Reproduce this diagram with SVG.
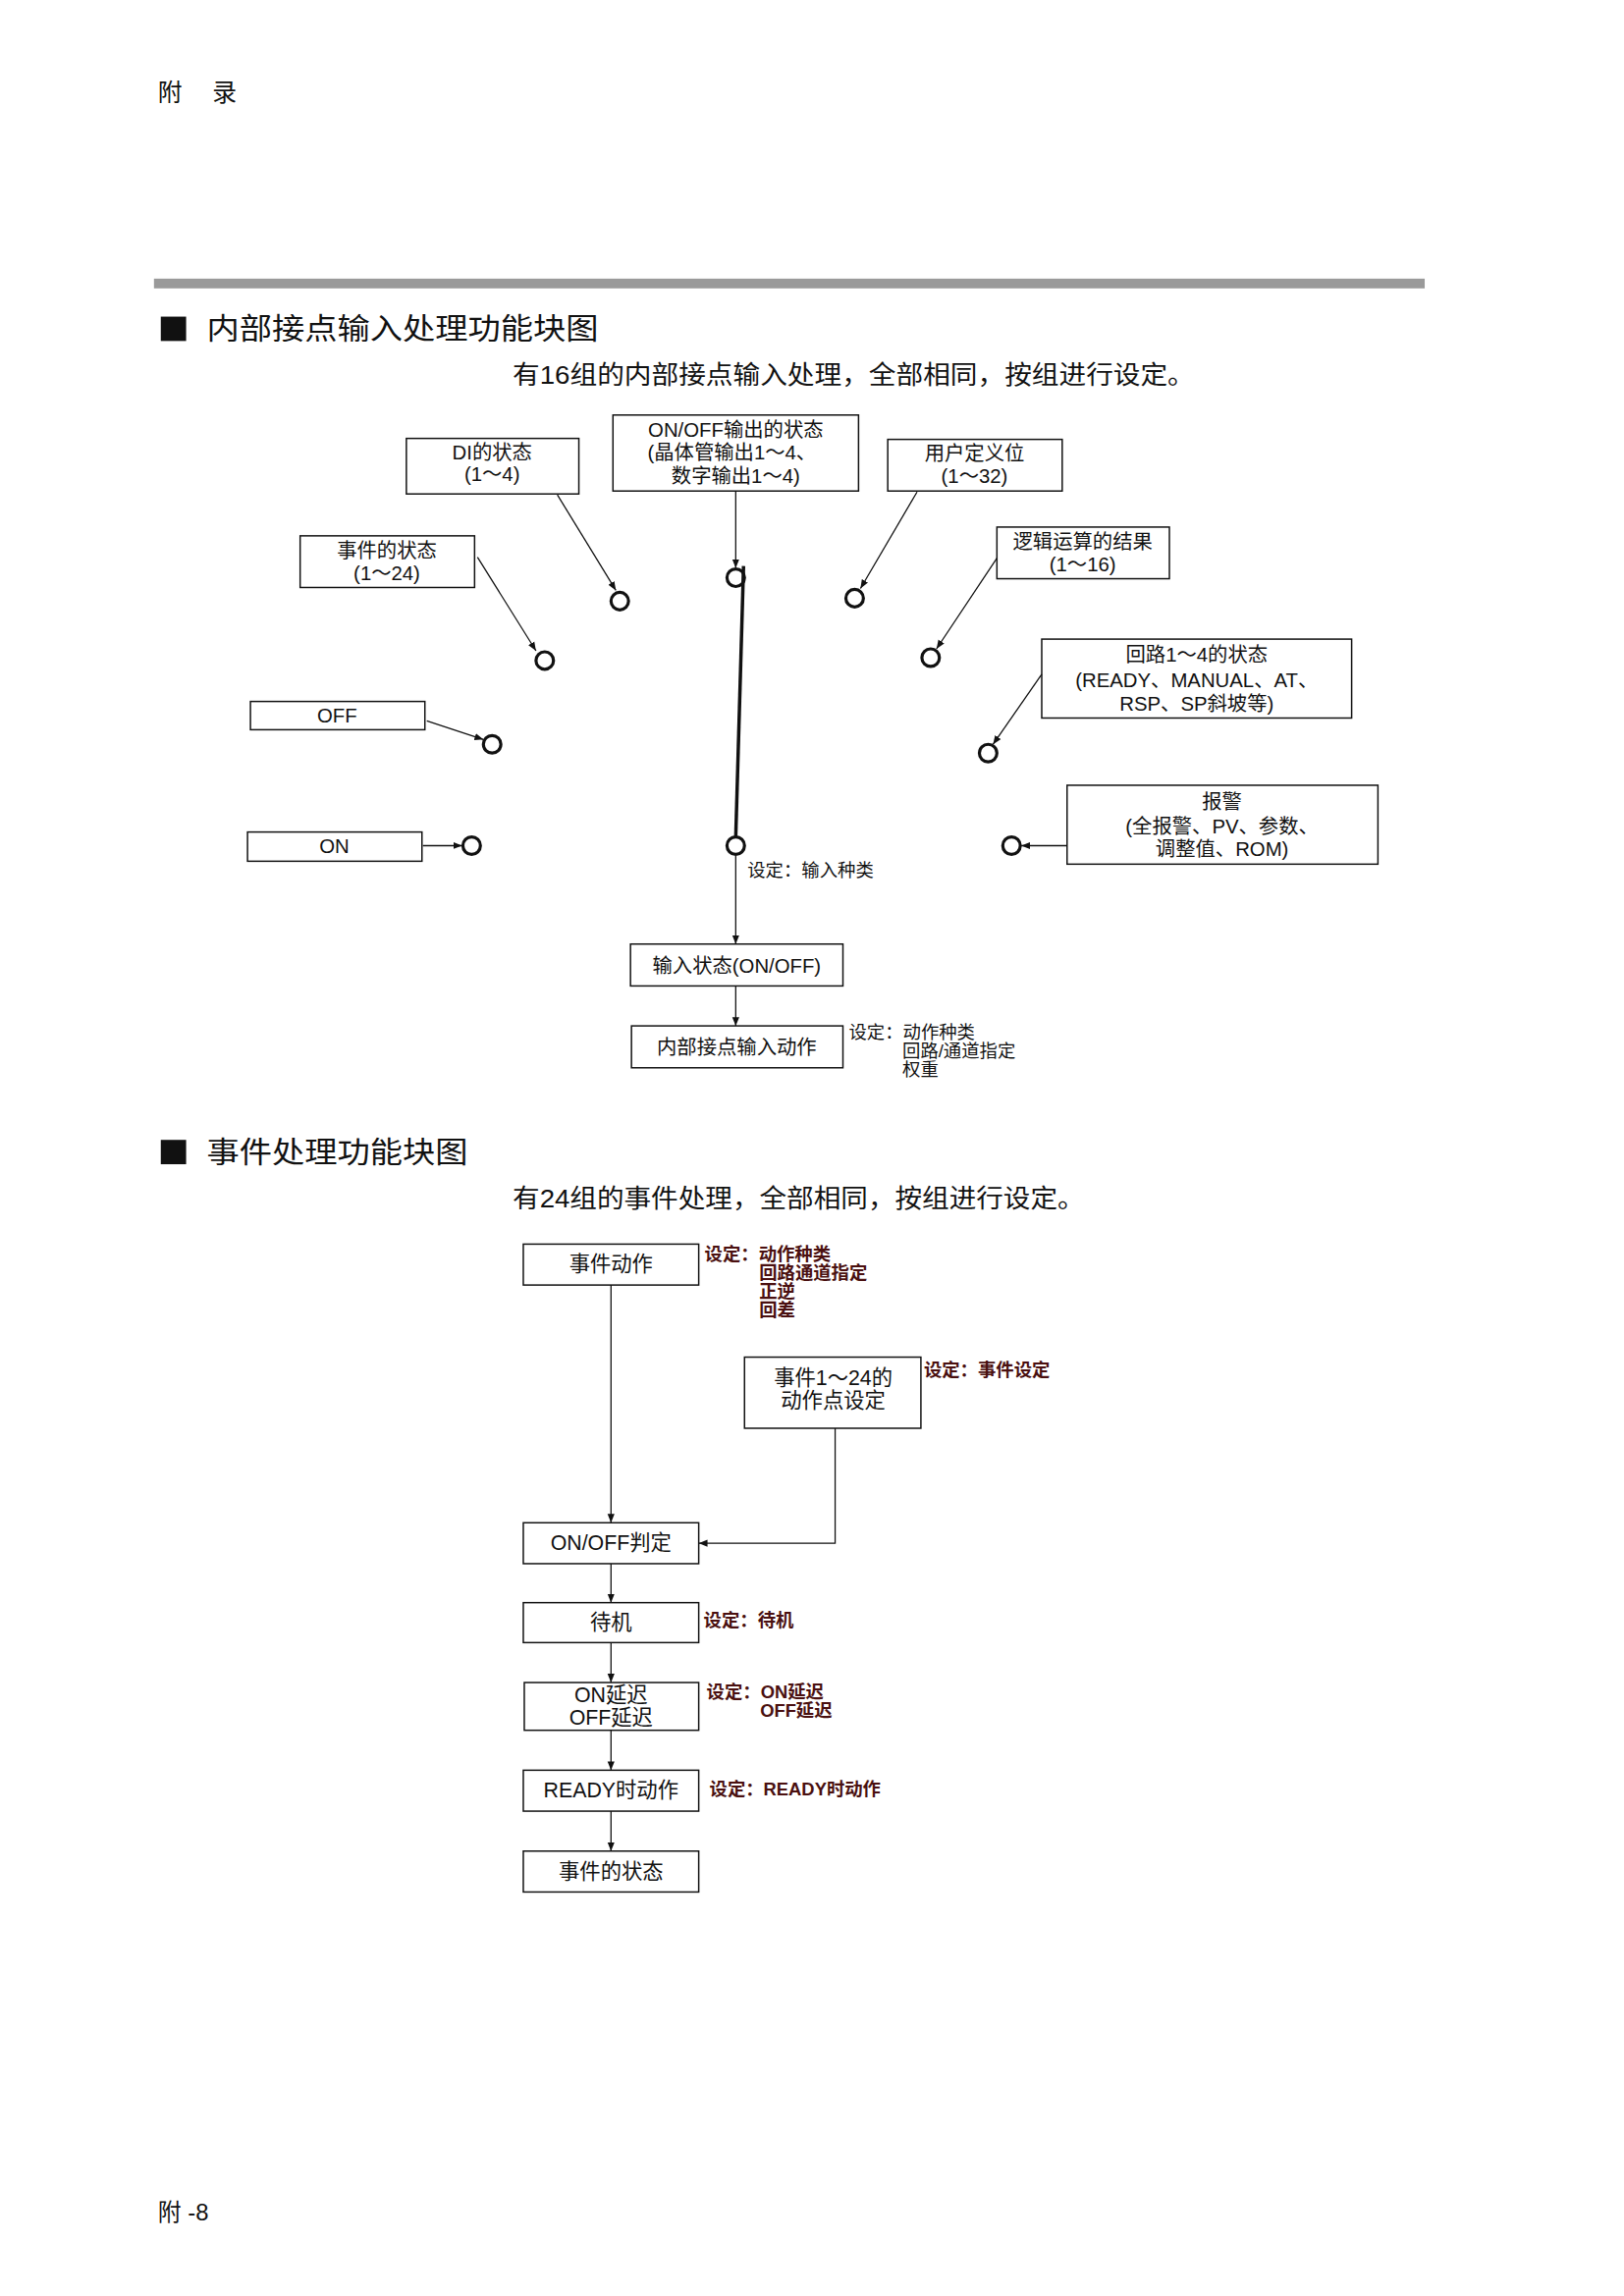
<svg xmlns="http://www.w3.org/2000/svg" width="1654" height="2339" viewBox="0 0 1654 2339">
<style>
text{font-family:"Liberation Sans","Noto Sans CJK SC",sans-serif;fill:#111}
.box{fill:#fff;stroke:#111;stroke-width:1.5}
.t{font-size:20.5px;text-anchor:middle}
.t2{font-size:21.5px;text-anchor:middle}
.lbl{font-size:18.5px}
.red{font-size:18.5px;font-weight:bold;fill:#4a1010}
.ln{fill:none;stroke:#111;stroke-width:1.3}
.sw{fill:#fff;stroke:#111;stroke-width:3.2}
.h1{font-size:30px}
.sub{font-size:26px}
</style>
<defs>
<marker id="ar" viewBox="0 0 10 10" refX="10" refY="5" markerWidth="9" markerHeight="9" markerUnits="userSpaceOnUse" orient="auto">
<path d="M0,1 L10,5 L0,9 z" fill="#111"/>
</marker>
</defs>
<rect width="1654" height="2339" fill="#fff"/>
<g id="page" transform="scale(0.9925)">
<text x="162" y="104" style="font-size:25px;letter-spacing:12px">附 录</text>
<rect x="158" y="286" width="1304" height="10" fill="#9a9a9a"/>

<g id="title1">
<rect x="165" y="325" width="26" height="25" fill="#111"/>
<text class="h1" x="212" y="348" textLength="402" lengthAdjust="spacingAndGlyphs">内部接点输入处理功能块图</text>
<text class="sub" x="526" y="394" textLength="700" lengthAdjust="spacingAndGlyphs">有16组的内部接点输入处理，全部相同，按组进行设定。</text>
</g>

<g id="n-di"><rect class="box" x="417" y="450" width="177" height="57"/><text class="t" x="505" y="472">DI的状态</text><text class="t" x="505" y="494">(1～4)</text></g>
<g id="n-onoff"><rect class="box" x="629" y="426" width="252" height="78"/><text class="t" x="755" y="448">ON/OFF输出的状态</text><text class="t" x="751" y="472">(晶体管输出1～4、</text><text class="t" x="755" y="496">数字输出1～4)</text></g>
<g id="n-user"><rect class="box" x="911" y="451" width="179" height="53"/><text class="t" x="1000" y="473">用户定义位</text><text class="t" x="1000" y="496">(1～32)</text></g>
<g id="n-event"><rect class="box" x="308" y="550" width="179" height="53"/><text class="t" x="397" y="572">事件的状态</text><text class="t" x="397" y="595">(1～24)</text></g>
<g id="n-logic"><rect class="box" x="1023" y="541" width="177" height="53"/><text class="t" x="1111" y="563">逻辑运算的结果</text><text class="t" x="1111" y="586">(1～16)</text></g>
<g id="n-off"><rect class="box" x="257" y="720" width="179" height="29"/><text class="t" x="346" y="742">OFF</text></g>
<g id="n-loop"><rect class="box" x="1069" y="656" width="318" height="81"/><text class="t" x="1228" y="679">回路1～4的状态</text><text class="t" x="1228" y="705">(READY、MANUAL、AT、</text><text class="t" x="1228" y="729">RSP、SP斜坡等)</text></g>
<g id="n-on"><rect class="box" x="254" y="854" width="179" height="30"/><text class="t" x="343" y="876">ON</text></g>
<g id="n-alarm"><rect class="box" x="1095" y="806" width="319" height="81"/><text class="t" x="1254" y="830">报警</text><text class="t" x="1254" y="855">(全报警、PV、参数、</text><text class="t" x="1254" y="879">调整值、ROM)</text></g>
<g id="n-instate"><rect class="box" x="647" y="969" width="218" height="43"/><text class="t" x="756" y="998">输入状态(ON/OFF)</text></g>
<g id="n-inact"><rect class="box" x="648" y="1053" width="217" height="43"/><text class="t" x="756" y="1082">内部接点输入动作</text></g>

<g id="connectors1">
<line class="ln" x1="572" y1="508" x2="632" y2="606" marker-end="url(#ar)"/>
<line class="ln" x1="755" y1="504" x2="755" y2="583" marker-end="url(#ar)"/>
<line class="ln" x1="941" y1="505" x2="883" y2="604" marker-end="url(#ar)"/>
<line class="ln" x1="490" y1="572" x2="550" y2="668" marker-end="url(#ar)"/>
<line class="ln" x1="1023" y1="573" x2="961" y2="666" marker-end="url(#ar)"/>
<line class="ln" x1="438" y1="740" x2="496" y2="759" marker-end="url(#ar)"/>
<line class="ln" x1="1069" y1="692" x2="1019" y2="764" marker-end="url(#ar)"/>
<line class="ln" x1="434" y1="868" x2="474" y2="868" marker-end="url(#ar)"/>
<line class="ln" x1="1095" y1="868" x2="1048" y2="868" marker-end="url(#ar)"/>
<line class="ln" x1="755" y1="878" x2="755" y2="969" marker-end="url(#ar)"/>
<line class="ln" x1="755" y1="1012" x2="755" y2="1053" marker-end="url(#ar)"/>
</g>

<g id="contacts">
<circle class="sw" cx="636" cy="617" r="9"/>
<circle class="sw" cx="755" cy="593" r="9"/>
<circle class="sw" cx="877" cy="614" r="9"/>
<circle class="sw" cx="559" cy="678" r="9"/>
<circle class="sw" cx="955" cy="675" r="9"/>
<circle class="sw" cx="505" cy="764" r="9"/>
<circle class="sw" cx="1014" cy="773" r="9"/>
<circle class="sw" cx="484" cy="868" r="9"/>
<circle class="sw" cx="1038" cy="868" r="9"/>
<circle class="sw" cx="755" cy="868" r="9"/>
<line x1="755" y1="859" x2="763" y2="581" stroke="#111" stroke-width="3.5"/>
</g>

<g id="labels1">
<text class="lbl" x="767" y="900">设定：输入种类</text>
<text class="lbl" x="871" y="1066">设定：动作种类</text>
<text class="lbl" x="926" y="1085">回路/通道指定</text>
<text class="lbl" x="926" y="1104">权重</text>
</g>

<g id="title2">
<rect x="165" y="1170" width="26" height="25" fill="#111"/>
<text class="h1" x="212" y="1193" textLength="268" lengthAdjust="spacingAndGlyphs">事件处理功能块图</text>
<text class="sub" x="526" y="1239" textLength="587" lengthAdjust="spacingAndGlyphs">有24组的事件处理，全部相同，按组进行设定。</text>
</g>

<g id="e-act"><rect class="box" x="537" y="1277" width="180" height="42"/><text class="t2" x="627" y="1305">事件动作</text></g>
<g id="e-point"><rect class="box" x="764" y="1393" width="181" height="73"/><text class="t2" x="855" y="1422">事件1～24的</text><text class="t2" x="855" y="1445">动作点设定</text></g>
<g id="e-judge"><rect class="box" x="537" y="1563" width="180" height="42"/><text class="t2" x="627" y="1591">ON/OFF判定</text></g>
<g id="e-wait"><rect class="box" x="537" y="1645" width="180" height="41"/><text class="t2" x="627" y="1673">待机</text></g>
<g id="e-delay"><rect class="box" x="538" y="1727" width="179" height="49"/><text class="t2" x="627" y="1747">ON延迟</text><text class="t2" x="627" y="1770">OFF延迟</text></g>
<g id="e-ready"><rect class="box" x="537" y="1817" width="180" height="42"/><text class="t2" x="627" y="1845">READY时动作</text></g>
<g id="e-state"><rect class="box" x="537" y="1900" width="180" height="42"/><text class="t2" x="627" y="1928">事件的状态</text></g>

<g id="connectors2">
<line class="ln" x1="627" y1="1319" x2="627" y2="1563" marker-end="url(#ar)"/>
<polyline class="ln" points="857,1466 857,1584 717,1584" marker-end="url(#ar)"/>
<line class="ln" x1="627" y1="1605" x2="627" y2="1645" marker-end="url(#ar)"/>
<line class="ln" x1="627" y1="1686" x2="627" y2="1727" marker-end="url(#ar)"/>
<line class="ln" x1="627" y1="1776" x2="627" y2="1817" marker-end="url(#ar)"/>
<line class="ln" x1="627" y1="1859" x2="627" y2="1900" marker-end="url(#ar)"/>
</g>

<g id="labels2">
<text class="red" x="723" y="1294">设定：动作种类</text>
<text class="red" x="779" y="1313">回路通道指定</text>
<text class="red" x="779" y="1332">正逆</text>
<text class="red" x="779" y="1351">回差</text>
<text class="red" x="948" y="1413">设定：事件设定</text>
<text class="red" x="722" y="1670">设定：待机</text>
<text class="red" x="725" y="1743">设定：ON延迟</text>
<text class="red" x="780" y="1762">OFF延迟</text>
<text class="red" x="728" y="1843">设定：READY时动作</text>
</g>

<text x="162" y="2279" style="font-size:24px">附 -8</text>
</g>
</svg>
